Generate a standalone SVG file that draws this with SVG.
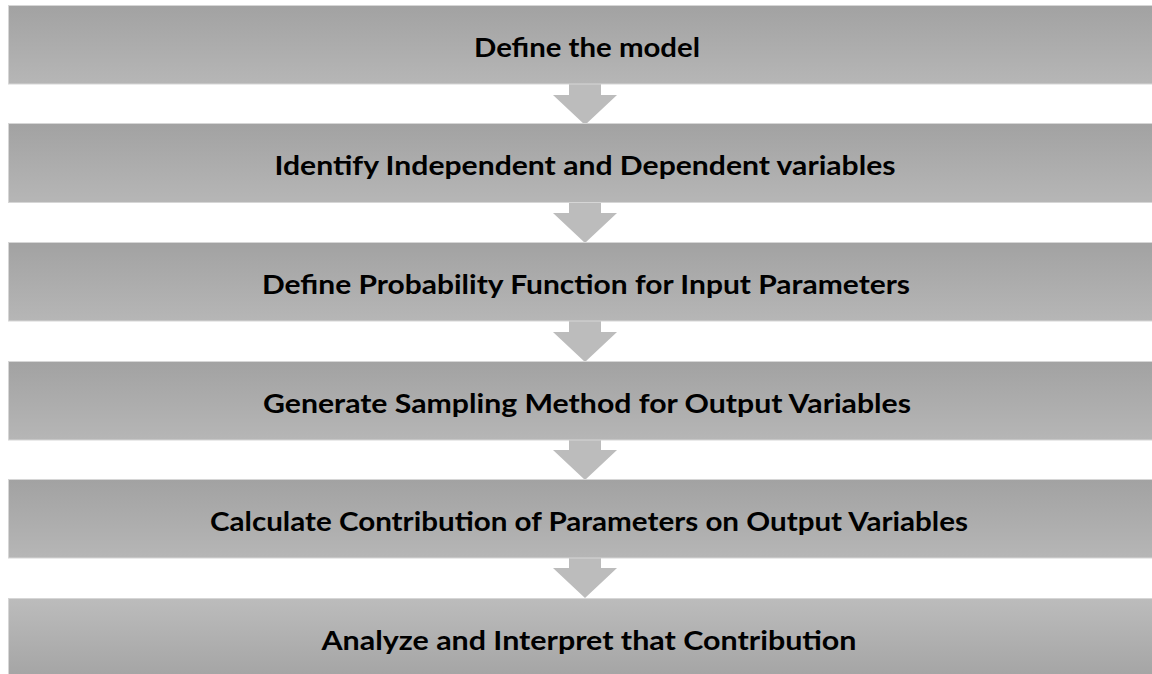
<svg xmlns="http://www.w3.org/2000/svg" width="1152" height="674" viewBox="0 0 1152 674">
<defs>
<linearGradient id="g" x1="0" y1="0" x2="0" y2="1"><stop offset="0" stop-color="#a2a2a2"/><stop offset="1" stop-color="#b6b6b6"/></linearGradient>
<linearGradient id="g2" x1="0" y1="0" x2="0" y2="1"><stop offset="0" stop-color="#bcbcbc"/><stop offset="1" stop-color="#a4a4a4"/></linearGradient>
<style>
.box{fill:url(#g);stroke:#d6d6d6;stroke-width:1}
.box2{fill:url(#g2);stroke:#d6d6d6;stroke-width:1}
.lbl{font-family:Lato,"Open Sans","Liberation Sans",sans-serif;font-weight:700;font-size:27px;fill:#000;text-anchor:middle}
.arr{fill:#bcbcbc}
</style>
</defs>
<rect width="1152" height="674" fill="#fff"/>
<g id="connectors">
<polygon class="arr" points="569,84 601,84 601,95 617,95 585,125 553,95 569,95"/>
<polygon class="arr" points="569,203 601,203 601,213 617,213 585,243 553,213 569,213"/>
<polygon class="arr" points="569,321 601,321 601,332 617,332 585,362 553,332 569,332"/>
<polygon class="arr" points="569,440 601,440 601,450 617,450 585,480 553,450 569,450"/>
<polygon class="arr" points="569,558 601,558 601,568 617,568 585,598 553,568 569,568"/>
</g>
<g id="n1"><rect class="box" x="8.5" y="5.5" width="1160" height="78.5"/><text class="lbl" x="587" y="57" textLength="226" lengthAdjust="spacingAndGlyphs">Define the model</text></g>
<g id="n2"><rect class="box" x="8.5" y="123.5" width="1160" height="79"/><text class="lbl" x="585" y="175" textLength="621" lengthAdjust="spacingAndGlyphs">Identify Independent and Dependent variables</text></g>
<g id="n3"><rect class="box" x="8.5" y="242.5" width="1160" height="78.5"/><text class="lbl" x="586" y="294" textLength="648" lengthAdjust="spacingAndGlyphs">Define Probability Function for Input Parameters</text></g>
<g id="n4"><rect class="box" x="8.5" y="361.5" width="1160" height="78.5"/><text class="lbl" x="587" y="413" textLength="648" lengthAdjust="spacingAndGlyphs">Generate Sampling Method for Output Variables</text></g>
<g id="n5"><rect class="box" x="8.5" y="479.5" width="1160" height="78.5"/><text class="lbl" x="589" y="531" textLength="758" lengthAdjust="spacingAndGlyphs">Calculate Contribution of Parameters on Output Variables</text></g>
<g id="n6"><rect class="box2" x="8.5" y="598.5" width="1160" height="80"/><text class="lbl" x="589" y="650" textLength="535" lengthAdjust="spacingAndGlyphs">Analyze and Interpret that Contribution</text></g>
</svg>
